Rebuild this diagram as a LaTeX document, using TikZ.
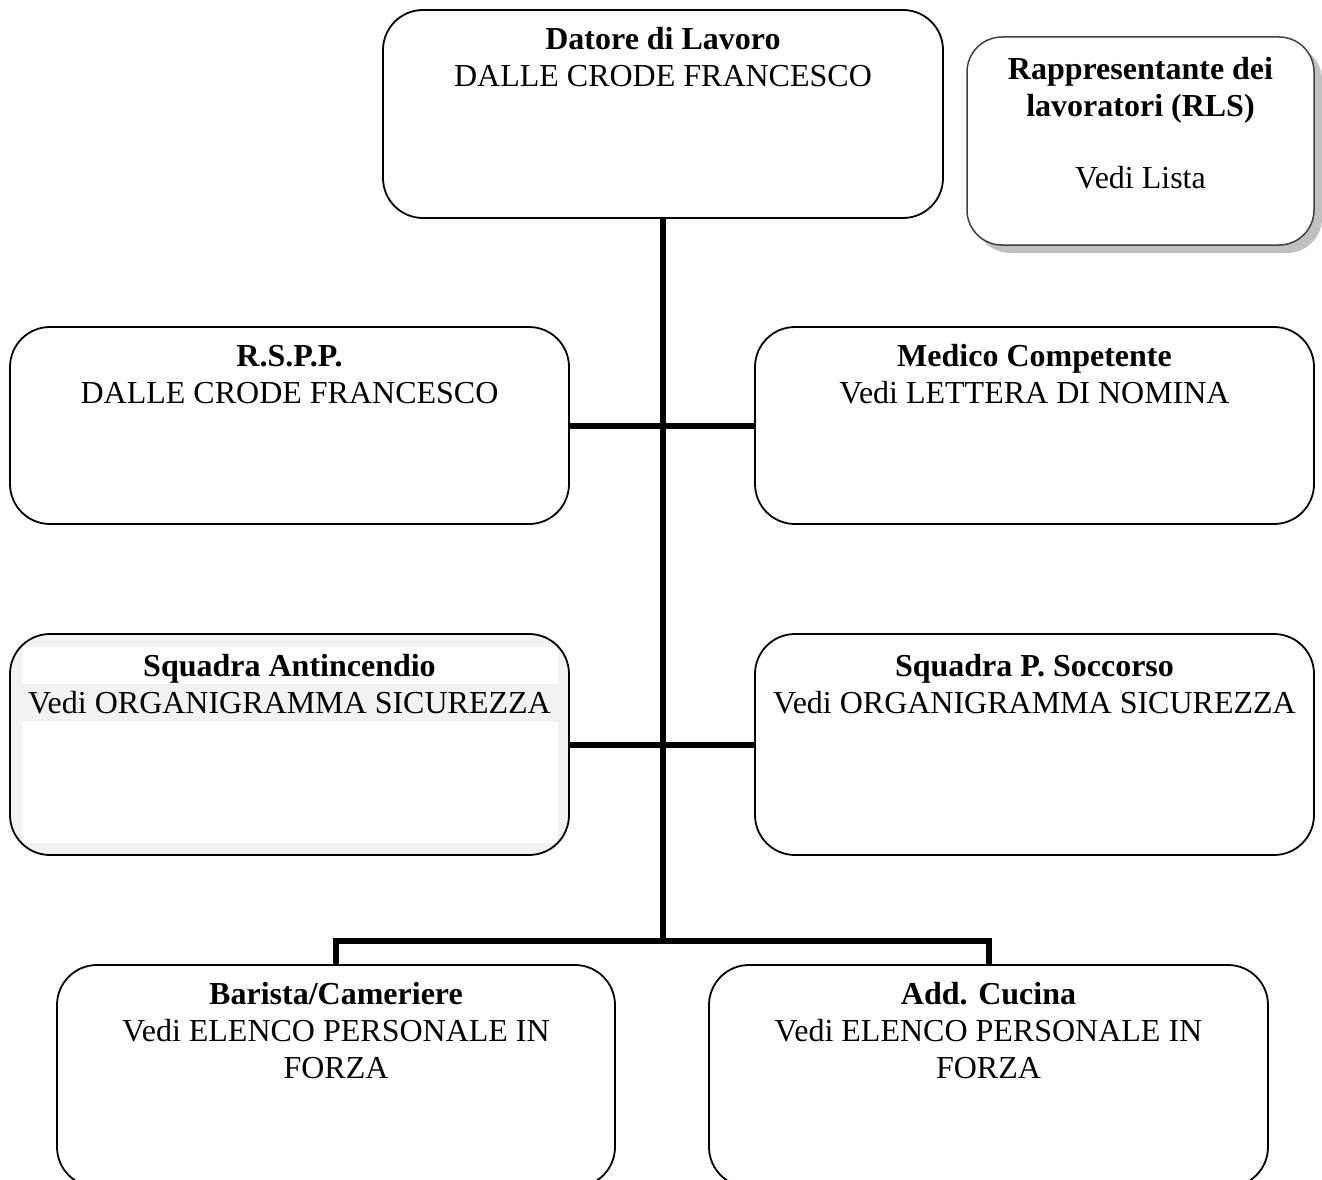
\documentclass[tikz,border=0pt]{standalone}
\usepackage{fontspec}
\setmainfont{Liberation Serif}
\definecolor{panelgray}{HTML}{F2F2F2}
\definecolor{shadowgray}{HTML}{C0C0C0}
\definecolor{rlsborder}{HTML}{404040}
\begin{document}
\begin{tikzpicture}[x=1pt,y=1pt,
  orgbox/.style={draw=black, line width=1.8pt, rounded corners=40pt, fill=white,
    inner sep=0pt, minimum width=559pt},
  boxtext/.style={anchor=north, inner sep=0pt, align=center,
    font=\fontsize{32}{37}\selectfont},
  link/.style={line width=6pt, draw=black}]
\useasboundingbox (0,0) rectangle (1322,-1180);
\clip (0,0) rectangle (1322,-1180);

% Datore di Lavoro
\node[orgbox, minimum width=560pt, minimum height=208pt] (datore) at (663,-114) {};
\node[boxtext] (datoretxt) at ([yshift=-14.1pt]datore.north)
  {\strut\textbf{Datore di Lavoro}\\DALLE CRODE FRANCESCO};

% RLS with shadow
\fill[shadowgray, rounded corners=35pt] (975,-45) rectangle (1322,-253);
\node[draw=rlsborder, line width=1.5pt, rounded corners=35pt, fill=white, inner sep=0pt,
  minimum width=347pt, minimum height=208pt] (rls) at (1140.5,-141) {};
\node[boxtext] (rlstxt) at ([yshift=-17pt]rls.north)
  {\strut\textbf{Rappresentante dei}\\\textbf{lavoratori (RLS)}\\[35pt]Vedi Lista};

% R.S.P.P.
\node[orgbox, minimum height=197pt] (rspp) at (289.5,-425.5) {};
\node[boxtext] (rspptxt) at ([yshift=-14.1pt]rspp.north)
  {\strut\textbf{R.S.P.P.}\\DALLE CRODE FRANCESCO};

% Medico Competente
\node[orgbox, minimum height=197pt] (medico) at (1034.5,-425.5) {};
\node[boxtext] (medicotxt) at ([yshift=-14.1pt]medico.north)
  {\strut\textbf{Medico Competente}\\Vedi LETTERA DI NOMINA};

% Squadra Antincendio (shaded)
\node[orgbox, draw=none, fill=panelgray, minimum height=221pt] (anti) at (289.5,-744.5) {};
\fill[white] (22,-647) rectangle (558,-684);
\fill[white] (22,-722) rectangle (558,-843);
\draw[line width=1.8pt, rounded corners=40pt] (10,-634) rectangle (569,-855);
\node[boxtext] (antitxt) at ([yshift=-17pt]anti.north)
  {\strut\textbf{Squadra Antincendio}\\Vedi ORGANIGRAMMA SICUREZZA};

% Squadra P. Soccorso
\node[orgbox, minimum height=221pt] (socc) at (1034.5,-744.5) {};
\node[boxtext] (socctxt) at ([yshift=-17pt]socc.north)
  {\strut\textbf{Squadra P. Soccorso}\\Vedi ORGANIGRAMMA SICUREZZA};

% Bottom boxes
\node[orgbox, minimum width=558pt, minimum height=222pt] (barista) at (336,-1076) {};
\node[boxtext] (baristatxt) at ([yshift=-14.1pt]barista.north)
  {\strut\textbf{Barista/Cameriere}\\Vedi ELENCO PERSONALE IN\\FORZA};

\node[orgbox, minimum height=222pt] (cucina) at (988.5,-1076) {};
\node[boxtext] (cucinatxt) at ([yshift=-14.1pt]cucina.north)
  {\strut\textbf{Add. Cucina}\\Vedi ELENCO PERSONALE IN\\FORZA};

% Connectors
\coordinate (junction) at (663,-941);
\draw[link] (datore.south) -- (junction);
\draw[link] (rspp.east) -- (medico.west);
\draw[link] (anti.east) -- (socc.west);
\draw[link] (barista.north) |- (junction) -| (cucina.north);
\end{tikzpicture}
\end{document}
